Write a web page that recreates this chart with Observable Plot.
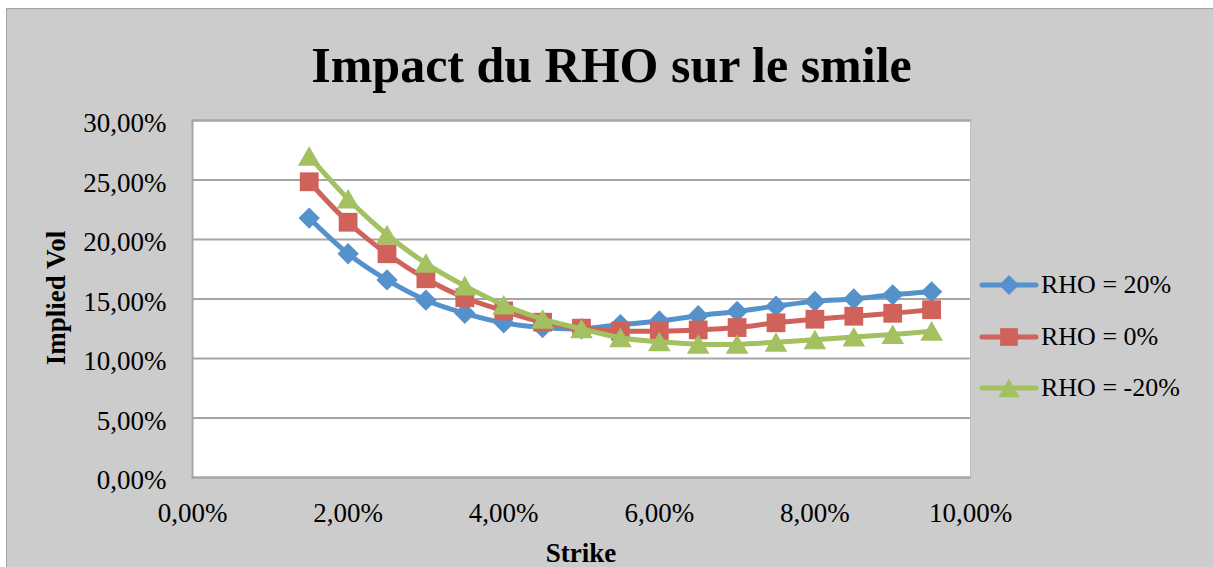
<!DOCTYPE html>
<html>
<head>
<meta charset="utf-8">
<script src="https://cdn.jsdelivr.net/npm/d3@7"></script>
<script src="https://cdn.jsdelivr.net/npm/@observablehq/plot@0.6"></script>
<style>
  html, body { margin: 0; padding: 0; background: #ffffff; overflow: hidden; }
  #wrap { position: relative; width: 1213px; height: 567px; overflow: hidden; }
  #panel { position: absolute; left: 6px; top: 8px; width: 1230px; height: 600px;
           background: #cccccc; border: 1.5px solid #a3a3a3; box-sizing: border-box; }
  #chart { position: absolute; left: 0; top: 0; }
  .title { position: absolute; left: 0; width: 1223px; top: 40px; text-align: center;
           font-family: "Liberation Serif", serif; font-weight: bold; font-size: 50px; line-height: 1; color: #000; }
  .ylab { position: absolute; left: 56px; top: 298px; transform: translate(-50%, -50%) rotate(-90deg);
          font-family: "Liberation Serif", serif; font-weight: bold; font-size: 27px; line-height: 1; white-space: nowrap; }
  .xlab { position: absolute; left: 581px; top: 553px; transform: translate(-50%, -50%);
          font-family: "Liberation Serif", serif; font-weight: bold; font-size: 27px; line-height: 1; white-space: nowrap; }
  #legend { position: absolute; left: 979px; top: 0; }
  .item { position: absolute; left: 0; display: flex; align-items: center; white-space: nowrap;
          font-family: "Liberation Serif", serif; font-size: 26px; line-height: 1; transform: translateY(-50%); }
  .item svg { margin-right: 2px; }
</style>
</head>
<body>
<div id="wrap">
  <div id="panel"></div>
  <div id="chart"></div>
  <div class="title">Impact du RHO sur le smile</div>
  <div class="ylab">Implied Vol</div>
  <div class="xlab">Strike</div>
  <div id="legend"></div>
</div>
<script>
// ---- data (values in %) ----
const strikes = [1.5, 2.0, 2.5, 3.0, 3.5, 4.0, 4.5, 5.0, 5.5, 6.0, 6.5, 7.0, 7.5, 8.0, 8.5, 9.0, 9.5];
const rhoPlus20 = [21.8, 18.8, 16.6, 14.9, 13.8, 13.0, 12.6, 12.5, 12.85, 13.15, 13.6, 13.95, 14.4, 14.8, 15.0, 15.35, 15.6];
const rhoZero = [24.85, 21.45, 18.8, 16.7, 15.1, 14.0, 13.05, 12.55, 12.3, 12.3, 12.4, 12.6, 13.0, 13.3, 13.55, 13.8, 14.1];
const rhoMinus20 = [27.0, 23.4, 20.4, 18.0, 16.1, 14.5, 13.3, 12.5, 11.75, 11.4, 11.2, 11.2, 11.37, 11.57, 11.8, 12.02, 12.3];
const seriesNames = ["RHO = 20%", "RHO = 0%", "RHO = -20%"];
const xTicks = [0, 2, 4, 6, 8, 10];
const yTicks = [0, 5, 10, 15, 20, 25, 30];

// ---- styles ----
const colors = ["#5592cc", "#cf625a", "#a3c160"];
const symbols = ["diamond2", "square", "triangle"];
const radii = [9.6, 10.6, 8.4];
const dys = [0, 0, 3];

const seriesValues = [rhoPlus20, rhoZero, rhoMinus20];
const data = seriesValues.flatMap((vals, s) =>
  strikes.map((k, i) => ({ strike: k, vol: vals[i], series: seriesNames[s] })));

const fmt = d => d.toFixed(2).replace(".", ",") + "%";

const seriesMarks = seriesNames.flatMap((name, s) => {
  const sub = data.filter(d => d.series === name);
  return [
    Plot.line(sub, { x: "strike", y: "vol", stroke: colors[s], strokeWidth: 5, curve: "catmull-rom", strokeLinejoin: "round", strokeLinecap: "round" }),
    Plot.dot(sub, { x: "strike", y: "vol", fill: colors[s], symbol: symbols[s], r: radii[s], dy: dys[s], stroke: "none" })
  ];
});

const chart = Plot.plot({
  width: 1213,
  height: 567,
  marginLeft: 192,
  marginRight: 243,
  marginTop: 120,
  marginBottom: 90,
  style: { background: "transparent", fontFamily: "Liberation Serif", fontSize: "27px", color: "#000", overflow: "visible" },
  x: { domain: [0, 10], ticks: xTicks, tickFormat: fmt, label: null },
  y: { domain: [0, 30], ticks: yTicks, tickFormat: fmt, label: null },
  marks: [
    Plot.frame({ fill: "white" }),
    Plot.gridY(yTicks, { stroke: "#a6a6a6", strokeOpacity: 1, strokeWidth: 2 }),
    Plot.frame({ anchor: "left", stroke: "#a6a6a6", strokeWidth: 2 }),
    Plot.frame({ anchor: "top", stroke: "#a6a6a6", strokeWidth: 2 }),
    Plot.frame({ anchor: "bottom", stroke: "#a6a6a6", strokeWidth: 2 }),
    Plot.frame({ anchor: "right", stroke: "#bdbdbd", strokeWidth: 1 }),
    Plot.axisY(yTicks, { tickSize: 0, tickPadding: 26, tickFormat: fmt, dy: 3, fill: "#000" }),
    Plot.axisX(xTicks, { tickSize: 0, tickPadding: 25, tickFormat: fmt, fill: "#000" }),
    ...seriesMarks
  ]
});
document.getElementById("chart").appendChild(chart);

// ---- legend ----
const legendY = [285, 337, 388];
const legendSizes = [9, 10, 8];
const leg = d3.select("#legend");
seriesNames.forEach((name, s) => {
  const item = leg.append("div").attr("class", "item").style("top", legendY[s] + "px");
  const svg = item.append("svg").attr("width", 60).attr("height", 24);
  svg.append("line").attr("x1", 3).attr("x2", 57).attr("y1", 12).attr("y2", 12)
    .attr("stroke", colors[s]).attr("stroke-width", 5).attr("stroke-linecap", "round");
  const sym = { diamond2: d3.symbolDiamond2, square: d3.symbolSquare, triangle: d3.symbolTriangle }[symbols[s]];
  svg.append("path").attr("d", d3.symbol(sym, Math.PI * legendSizes[s] * legendSizes[s])())
    .attr("transform", `translate(30,${12 + dys[s]})`).attr("fill", colors[s]);
  item.append("span").text(name);
});
</script>
</body>
</html>
